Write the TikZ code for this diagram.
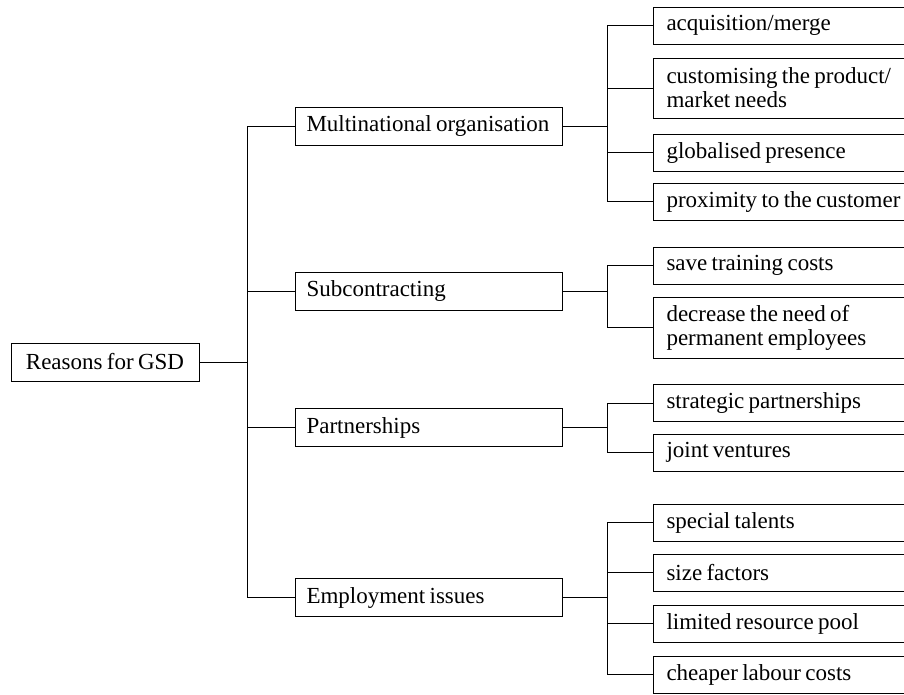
\documentclass[tikz,border=0pt]{standalone}
\usepackage{fontspec}
\setmainfont{Liberation Serif}[WordSpace=0.75]
\usepackage{tikz}

\tikzset{
  box/.style={draw=black, line width=1pt, inner xsep=13pt, inner ysep=0pt,
    font=\fontsize{23}{24}\selectfont},
  rootbox/.style={box, minimum width=188pt, minimum height=38pt},
  mainbox/.style={box, anchor=west, inner xsep=11pt, text width=245pt,
    execute at begin node={\raggedright\spaceskip=0pt\xspaceskip=0pt}, minimum height=38pt},
  leafbox/.style={box, anchor=west, text width=250pt,
    execute at begin node={\raggedright\spaceskip=0pt\xspaceskip=0pt}, minimum height=37pt},
  link/.style={draw=black, line width=1pt}
}

\begin{document}
\begin{tikzpicture}[x=1pt, y=-1pt]
			\useasboundingbox (0,0) rectangle (904,694);
			\clip (0,0) rectangle (904,694);
			
			\node[rootbox] (root) at (105,362) {Reasons for GSD};
			
			\node[mainbox] (multi) at (295,126) {Multinational organisation};
			\node[mainbox] (sub) at (295,291) {Subcontracting};
			\node[mainbox] (part) at (295,427.5) {Partnerships};
			\node[mainbox] (emp) at (295,597.5) {Employment issues};
			
			\node[leafbox] (acq) at (653,25.5) {acquisition/merge};
			\node[leafbox, minimum height=60pt] (cust) at (653,88) {customising the product/\\market needs};
			\node[leafbox] (glob) at (653,152.5) {globalised presence};
			\node[leafbox] (prox) at (653,201.5) {proximity to the customer};
			
			\node[leafbox] (save) at (653,265.5) {save training costs};
			\node[leafbox, minimum height=61pt] (decr) at (653,327.5) {decrease the need of\\permanent employees};
			
			\node[leafbox] (strat) at (653,403) {strategic partnerships};
			\node[leafbox] (joint) at (653,452.5) {joint ventures};
			
			\node[leafbox] (spec) at (653,522.5) {special talents};
			\node[leafbox] (size) at (653,572.5) {size factors};
			\node[leafbox] (lim) at (653,623.5) {limited resource pool};
			\node[leafbox] (cheap) at (653,674.5) {cheaper labour costs};
			
			% junction columns
			\coordinate (t) at (247,362);
			\coordinate (j) at (607,0);
			
			% root to main branches
			\path [link] (root.east) -- (t);
			\path [link] (t |- multi.west) -- (t |- emp.west);
			\path [link] (t |- multi.west) -- (multi.west);
			\path [link] (t |- sub.west) -- (sub.west);
			\path [link] (t |- part.west) -- (part.west);
			\path [link] (t |- emp.west) -- (emp.west);
			
			% multinational organisation
			\path [link] (multi.east) -- (multi.east -| j);
			\path [link] (j |- acq.west) -- (j |- prox.west);
			\path [link] (j |- acq.west) -- (acq.west);
			\path [link] (j |- cust.west) -- (cust.west);
			\path [link] (j |- glob.west) -- (glob.west);
			\path [link] (j |- prox.west) -- (prox.west);
			
			% subcontracting
			\path [link] (sub.east) -- (sub.east -| j);
			\path [link] (j |- save.west) -- (j |- decr.west);
			\path [link] (j |- save.west) -- (save.west);
			\path [link] (j |- decr.west) -- (decr.west);
			
			% partnerships
			\path [link] (part.east) -- (part.east -| j);
			\path [link] (j |- strat.west) -- (j |- joint.west);
			\path [link] (j |- strat.west) -- (strat.west);
			\path [link] (j |- joint.west) -- (joint.west);
			
			% employment issues
			\path [link] (emp.east) -- (emp.east -| j);
			\path [link] (j |- spec.west) -- (j |- cheap.west);
			\path [link] (j |- spec.west) -- (spec.west);
			\path [link] (j |- size.west) -- (size.west);
			\path [link] (j |- lim.west) -- (lim.west);
			\path [link] (j |- cheap.west) -- (cheap.west);
		\end{tikzpicture}
\end{document}
